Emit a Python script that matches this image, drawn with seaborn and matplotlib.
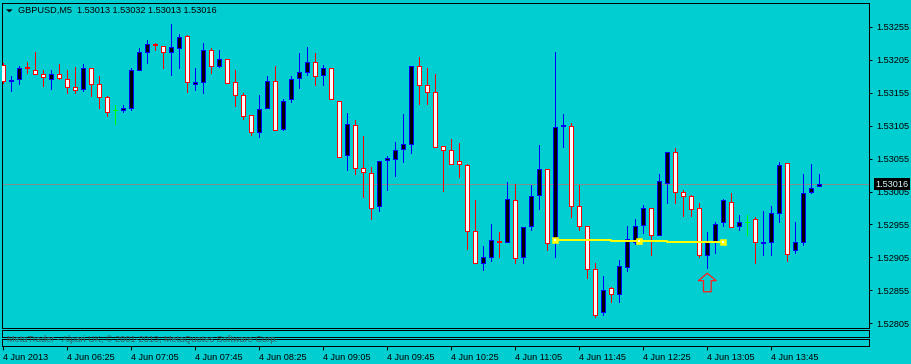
import matplotlib
matplotlib.use("Agg")
import matplotlib.pyplot as plt
import matplotlib.transforms as mtrans
from matplotlib.path import Path
from matplotlib.patches import Polygon
import numpy as np
import pandas as pd
import seaborn as sns

# ---------------- data (GBPUSD M5, 4 Jun 2013, from 05:45) ----------------
opens = [1.53197, 1.53172, 1.53175, 1.53194, 1.53190, 1.53183, 1.53176, 1.53183, 1.53176, 1.53164,
         1.53160, 1.53193, 1.53168, 1.53148, 1.53128, 1.53129, 1.53131, 1.53189, 1.53217, 1.53228,
         1.53225, 1.53217, 1.53222, 1.53241, 1.53168, 1.53171, 1.53220, 1.53196, 1.53206, 1.53171,
         1.53151, 1.53121, 1.53095, 1.53132, 1.53172, 1.53100, 1.53145, 1.53177, 1.53187, 1.53202,
         1.53181, 1.53192, 1.53143, 1.53060, 1.53106, 1.53040, 1.53033, 1.52983, 1.53053, 1.53055,
         1.53069, 1.53077, 1.53195, 1.53166, 1.53156, 1.53074, 1.53068, 1.53051, 1.53045, 1.52945,
         1.52896, 1.52905, 1.52930, 1.52929, 1.52992, 1.52905, 1.52952, 1.52999, 1.53039, 1.52933,
         1.53104, 1.53105, 1.52983, 1.52952, 1.52887, 1.52822, 1.52858, 1.52849, 1.52890, 1.52928,
         1.52954, 1.52980, 1.52939, 1.53018, 1.53065, 1.53004, 1.52998, 1.52980, 1.52908, 1.52929,
         1.52958, 1.52989, 1.52952, 1.52958, 1.52963, 1.52927, 1.52928, 1.52973, 1.53048, 1.52916,
         1.52929, 1.53005, 1.53013]
highs = [1.53200, 1.53180, 1.53195, 1.53201, 1.53216, 1.53189, 1.53189, 1.53198, 1.53189, 1.53194,
         1.53198, 1.53193, 1.53180, 1.53150, 1.53136, 1.53136, 1.53192, 1.53222, 1.53235, 1.53230,
         1.53225, 1.53259, 1.53244, 1.53242, 1.53193, 1.53230, 1.53222, 1.53220, 1.53206, 1.53189,
         1.53154, 1.53121, 1.53151, 1.53180, 1.53195, 1.53145, 1.53180, 1.53215, 1.53224, 1.53215,
         1.53197, 1.53192, 1.53143, 1.53124, 1.53113, 1.53089, 1.53042, 1.53052, 1.53059, 1.53080,
         1.53123, 1.53195, 1.53209, 1.53192, 1.53183, 1.53074, 1.53085, 1.53079, 1.53046, 1.52992,
         1.52922, 1.52956, 1.52944, 1.53020, 1.53016, 1.52951, 1.53015, 1.53076, 1.53039, 1.53217,
         1.53123, 1.53109, 1.53015, 1.52952, 1.52897, 1.52877, 1.52860, 1.52901, 1.52953, 1.52964,
         1.52985, 1.52980, 1.53032, 1.53065, 1.53071, 1.53008, 1.53000, 1.52987, 1.52944, 1.52958,
         1.52993, 1.53002, 1.52970, 1.52969, 1.52966, 1.52975, 1.52983, 1.53050, 1.53048, 1.52959,
         1.53032, 1.53047, 1.53032]
lows = [1.53170, 1.53158, 1.53168, 1.53185, 1.53183, 1.53165, 1.53161, 1.53175, 1.53155, 1.53155,
        1.53158, 1.53150, 1.53131, 1.53120, 1.53108, 1.53125, 1.53129, 1.53189, 1.53200, 1.53219,
        1.53192, 1.53182, 1.53193, 1.53156, 1.53159, 1.53154, 1.53185, 1.53194, 1.53169, 1.53135,
        1.53115, 1.53090, 1.53088, 1.53131, 1.53099, 1.53098, 1.53141, 1.53162, 1.53182, 1.53167,
        1.53167, 1.53145, 1.53058, 1.53038, 1.53032, 1.52996, 1.52964, 1.52976, 1.53008, 1.53029,
        1.53050, 1.53064, 1.53138, 1.53138, 1.53073, 1.53006, 1.53046, 1.53027, 1.52918, 1.52896,
        1.52886, 1.52899, 1.52905, 1.52928, 1.52896, 1.52897, 1.52947, 1.52979, 1.52917, 1.52905,
        1.53073, 1.52966, 1.52946, 1.52874, 1.52815, 1.52818, 1.52837, 1.52838, 1.52885, 1.52926,
        1.52942, 1.52908, 1.52939, 1.52987, 1.52987, 1.52968, 1.52968, 1.52905, 1.52889, 1.52912,
        1.52953, 1.52951, 1.52946, 1.52939, 1.52896, 1.52908, 1.52908, 1.52958, 1.52899, 1.52911,
        1.52924, 1.53002, 1.53013]
closes = [1.53172, 1.53174, 1.53192, 1.53192, 1.53183, 1.53178, 1.53183, 1.53177, 1.53163, 1.53159,
          1.53193, 1.53168, 1.53148, 1.53126, 1.53128, 1.53131, 1.53189, 1.53216, 1.53228, 1.53227,
          1.53216, 1.53224, 1.53239, 1.53171, 1.53171, 1.53220, 1.53196, 1.53206, 1.53170, 1.53151,
          1.53119, 1.53095, 1.53130, 1.53172, 1.53099, 1.53142, 1.53175, 1.53186, 1.53201, 1.53180,
          1.53192, 1.53145, 1.53058, 1.53107, 1.53040, 1.53034, 1.52980, 1.53052, 1.53056, 1.53068,
          1.53077, 1.53195, 1.53167, 1.53156, 1.53073, 1.53068, 1.53046, 1.53046, 1.52945, 1.52896,
          1.52905, 1.52931, 1.52928, 1.52993, 1.52904, 1.52951, 1.52998, 1.53039, 1.52927, 1.53103,
          1.53106, 1.52983, 1.52952, 1.52887, 1.52817, 1.52855, 1.52849, 1.52892, 1.52933, 1.52952,
          1.52980, 1.52939, 1.53021, 1.53065, 1.53005, 1.52998, 1.52978, 1.52908, 1.52929, 1.52955,
          1.52992, 1.52951, 1.52958, 1.52958, 1.52928, 1.52929, 1.52972, 1.53045, 1.52910, 1.52929,
          1.53002, 1.53011, 1.53016]

tick_bars = [0, 8, 16, 24, 32, 40, 48, 56, 64, 72, 80, 88, 96]
tick_labels = ["4 Jun 2013", "4 Jun 06:25", "4 Jun 07:05", "4 Jun 07:45", "4 Jun 08:25",
               "4 Jun 09:05", "4 Jun 09:45", "4 Jun 10:25", "4 Jun 11:05", "4 Jun 11:45",
               "4 Jun 12:25", "4 Jun 13:05", "4 Jun 13:45"]
price_ticks = [1.52805, 1.52855, 1.52905, 1.52955, 1.53005, 1.53055, 1.53105, 1.53155, 1.53205, 1.53255]
price_labels = ["1.52805", "1.52855", "1.52905", "1.52955", "1.53005", "1.53055", "1.53105",
                "1.53155", "1.53205", "1.53255"]

# indicator (yellow) line and arrow signal
ind_bars = [69, 76, 83, 90]
ind_values = [1.52932, 1.52930, 1.52928, 1.52928]
ind_points_bars = [69, 79.5, 90]
ind_points_values = [1.52932, 1.52930, 1.52928]
arrow_bars = [88]
arrow_prices = [1.52867]

symbol_title = "GBPUSD,M5  1.53013 1.53032 1.53013 1.53016"
last_price = 1.53016
last_label = "1.53016"
copyright_txt = "MetaTrader - Alpari UK, \u00a9 2001-2013, MetaQuotes Software Corp."

# ---------------- style ----------------
BG = "#00CED1"
BULL_EDGE, BEAR_EDGE, DOJI = "#0000FF", "#FF0000", "#00FF00"
BULL_FILL, BEAR_FILL = "#000000", "#FFFFFF"
FS = 6.6
PX = 0.72  # one pixel in points

sns.set_theme(style="white", rc={"axes.facecolor": BG, "figure.facecolor": BG,
                                 "savefig.facecolor": BG})
plt.rcParams["font.family"] = ["Liberation Sans", "DejaVu Sans"]

W, H = 912, 364
fig = plt.figure(figsize=(W / 100, H / 100), dpi=100)


def fx(px):
    return px / W


def fy(py):
    return 1 - py / H


ax = fig.add_axes([fx(2.5), fy(327.7), fx(869.3 - 2.5), (327.7 - 2.7) / H])
ax.set_facecolor(BG)

df = pd.DataFrame({"bar": np.arange(len(opens)), "open": opens, "high": highs,
                   "low": lows, "close": closes})
up = df["close"] > df["open"]
down = df["close"] < df["open"]
edge = np.where(up, BULL_EDGE, np.where(down, BEAR_EDGE, DOJI))
fill = np.where(up, BULL_FILL, np.where(down, BEAR_FILL, DOJI))

# current price line
ax.axhline(last_price, color="#7f8f8f", lw=PX, zorder=1)

# wicks
ax.vlines(df["bar"], df["low"], df["high"], colors=edge, lw=PX, zorder=2,
          antialiased=False)
# bodies
body_bottom = np.minimum(df["open"], df["close"])
body_h = np.maximum(np.abs(df["close"] - df["open"]), 1e-7)
ax.bar(df["bar"], body_h, bottom=body_bottom, width=0.52, color=fill, edgecolor=edge,
       linewidth=PX, zorder=3, antialiased=False)

# yellow indicator line
ind_df = pd.DataFrame({"bar": ind_bars, "value": ind_values})
sns.lineplot(data=ind_df, x="bar", y="value", ax=ax, color="#FFFF00", lw=2 * PX,
             drawstyle="steps-post", zorder=4, estimator=None, sort=False)
pts = pd.DataFrame({"bar": ind_points_bars, "value": ind_points_values})
sns.scatterplot(data=pts, x="bar", y="value", ax=ax, marker="s", s=22, color="#FFFF00",
                edgecolor="#FFFF00", zorder=5)
sns.scatterplot(data=pts, x="bar", y="value", ax=ax, marker="s", s=2.5, color="#FFFFFF",
                edgecolor="none", zorder=6)

# arrow signal
arrow_path = Path([(0, 9.2), (8.8, 1.8), (3.8, 1.8), (3.8, -9.2), (-3.8, -9.2),
                   (-3.8, 1.8), (-8.8, 1.8), (0, 9.2)], closed=True)
ax.scatter(arrow_bars, arrow_prices, marker=arrow_path, s=178, facecolor="none",
           edgecolor="#FF2020", linewidth=PX * 1.3, zorder=6)

ax.set_xlim(-0.1, 108.25)
ax.set_ylim(1.527984, 1.532914)
ax.set_xlabel("")
ax.set_ylabel("")
ax.yaxis.tick_right()
ax.set_yticks(price_ticks)
ax.set_yticklabels(price_labels)
ax.tick_params(axis="y", right=True, left=False, length=2.3, width=PX, pad=2.6,
               labelsize=FS, colors="black", direction="out")
ax.tick_params(axis="x", bottom=False, labelbottom=False)
for sp in ax.spines.values():
    sp.set_color("black")
    sp.set_linewidth(PX)
    sp.set_visible(True)

# last price label
trans = mtrans.blended_transform_factory(ax.transAxes, ax.transData)
trans_off = trans + mtrans.ScaledTranslation(6.4 / 100, 0, fig.dpi_scale_trans)
ax.text(1.0, last_price, last_label, transform=trans_off, ha="left", va="center",
        color="#E0FFFF", fontsize=FS,
        bbox=dict(boxstyle="square,pad=0.18", fc="black", ec="none"), clip_on=False,
        zorder=10)

# sub-window strips
for top, bottom in [(330.3, 337.3), (339.3, 346.3)]:
    s_ax = fig.add_axes([fx(2.5), fy(bottom), fx(869.3 - 2.5), (bottom - top) / H],
                        sharex=ax)
    s_ax.set_facecolor(BG)
    s_ax.set_yticks([])
    s_ax.set_ylim(0, 1)
    for sp in s_ax.spines.values():
        sp.set_color("black")
        sp.set_linewidth(PX)
        sp.set_visible(True)
    s_ax.tick_params(axis="x", bottom=False, labelbottom=False)
    last_strip = s_ax

last_strip.set_xticks(tick_bars)
last_strip.set_xticklabels(tick_labels, ha="left")
last_strip.tick_params(axis="x", bottom=True, labelbottom=True, length=2.6, width=PX,
                       pad=2.0, labelsize=FS, colors="black", direction="out")
last_strip.set_xlim(-0.1, 108.25)

# title and copyright
fig.text(fx(18), fy(10.8), symbol_title, ha="left", va="center", fontsize=FS,
         color="black")
tri = Polygon([[fx(6), fy(9.3)], [fx(12.7), fy(9.3)], [fx(9.35), fy(12.4)]],
              closed=True, transform=fig.transFigure, fc="black", ec="none")
fig.add_artist(tri)
fig.text(fx(7), fy(339.6), copyright_txt, ha="left", va="center", fontsize=FS,
         color="#3b5f5f", zorder=20)

fig.savefig("out.png", dpi=100, facecolor=BG)
